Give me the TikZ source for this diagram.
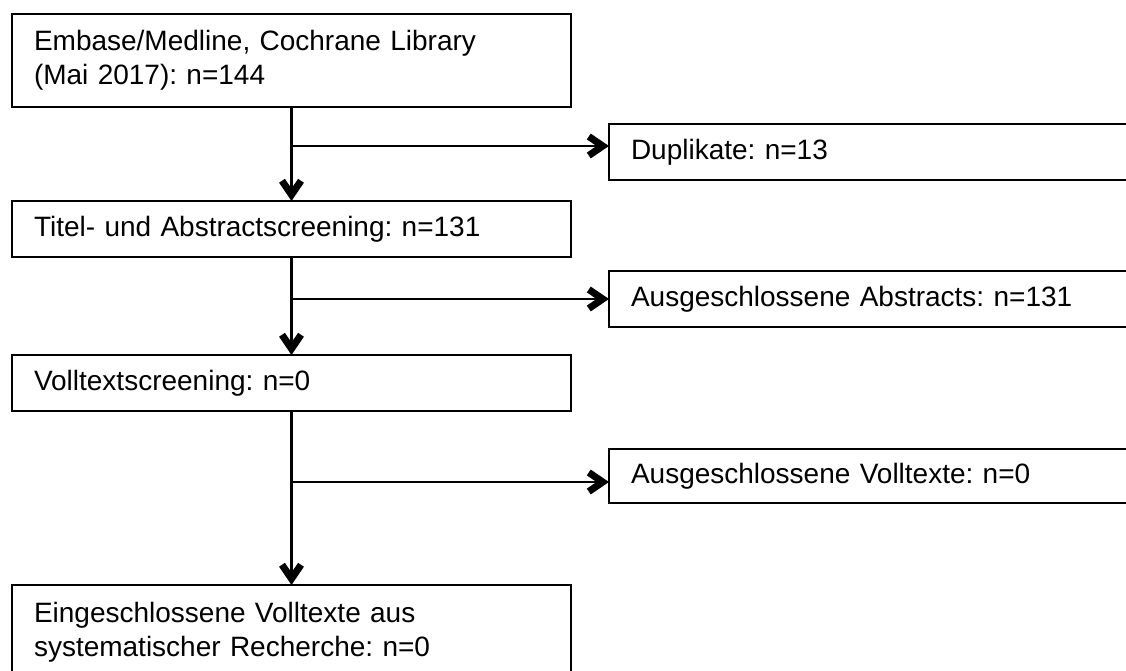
\documentclass[tikz,border=0pt]{standalone}
\usepackage{fontspec}
\setmainfont{Liberation Sans}
\usetikzlibrary{arrows.meta,positioning}
\frenchspacing

\begin{document}
\begin{tikzpicture}[x=1pt,y=-1pt]
  \useasboundingbox (0,0) rectangle (1126,671);
  \clip (0,0) rectangle (1126,671);
  \begin{scope}[line width=2.8pt,
    node distance=94pt,
    flow/.style={-{Straight Barb[length=14pt,width=19pt,line width=7pt]}},
    block/.style={rectangle,draw,font=\fontsize{28}{34}\selectfont,outer sep=0pt,
      text width=515pt,inner xsep=22pt,align=left,minimum height=56pt},
    sidebox/.style={block,text width=560pt,anchor=north west}]

    \node[block, minimum height=93pt, anchor=north west] (search) at (12,14) {Embase/Medline, Cochrane Library\\(Mai 2017): n=144};
    \node[block, below=of search] (title_abs) {Titel- und Abstractscreening: n=131};
    \node[block, below=98pt of title_abs] (fulltext) {Volltextscreening: n=0};
    \node[block, below=174pt of fulltext, minimum height=94pt] (included) {Eingeschlossene Volltexte aus\\systematischer Recherche: n=0};

    \node[sidebox] (dupl) at (609,124) {Duplikate: n=13};
    \node[sidebox] (excl_abs) at (609,271) {Ausgeschlossene Abstracts: n=131};
    \node[sidebox, minimum height=54pt] (excl_full) at (609,449) {Ausgeschlossene Volltexte: n=0};

    \coordinate (split1) at (search.south |- 0,146);
    \coordinate (split2) at (title_abs.south |- 0,299);
    \coordinate (split3) at (fulltext.south |- 0,482);
    \draw[flow] (search) -- (title_abs);
    \draw[flow] (title_abs) -- (fulltext);
    \draw[flow] (fulltext) -- (included);
    \draw[flow] (split1) -- (split1 -| dupl.west);
    \draw[flow] (split2) -- (split2 -| excl_abs.west);
    \draw[flow] (split3) -- (split3 -| excl_full.west);
  \end{scope}
\end{tikzpicture}
\end{document}
